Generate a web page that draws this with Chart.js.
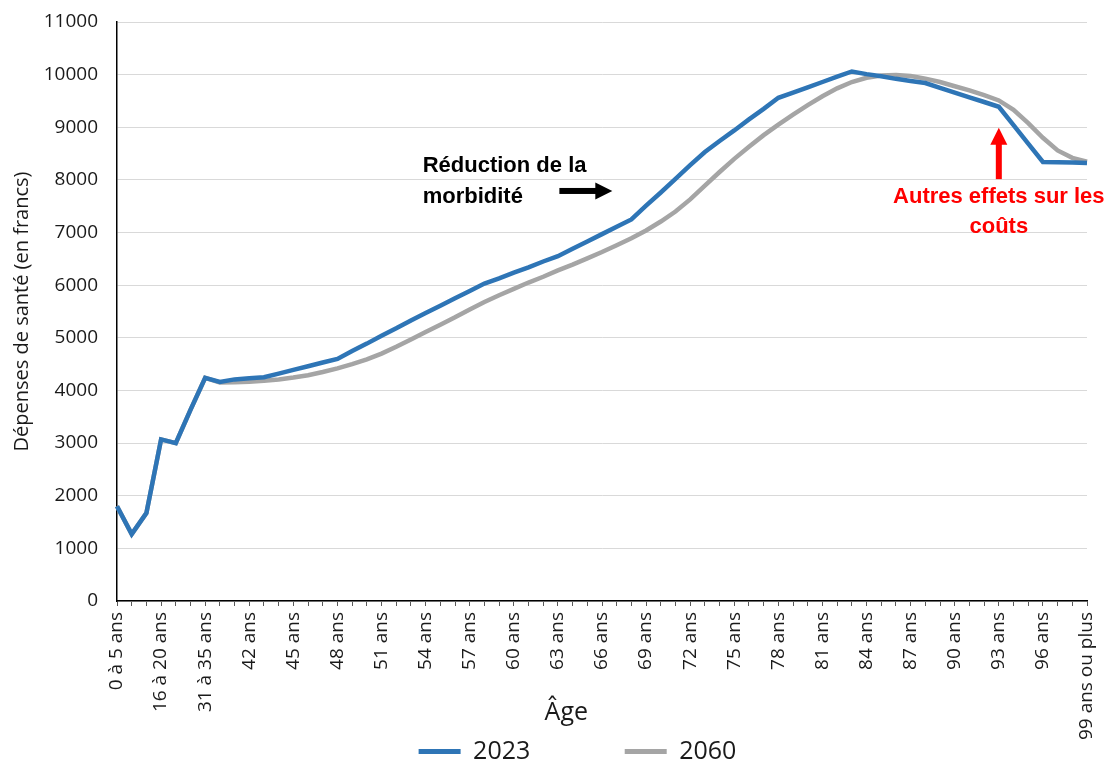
<!DOCTYPE html>
<html lang="fr">
<head>
<meta charset="UTF-8">
<title>Dépenses de santé par âge</title>
<script src="https://cdn.jsdelivr.net/npm/chart.js"></script>
<style>
    html, body { margin: 0; padding: 0; background: #fff; }
    #wrap { width: 1109px; height: 762px; }
</style>
</head>
<body>
<div id="wrap"><canvas id="chart" width="1109" height="762"></canvas></div>
<script>
    // catégories d'âge
    const ageLabels = [
        "0 à 5 ans", "6 à 10 ans", "11 à 15 ans", "16 à 20 ans", "21 à 25 ans", "26 à 30 ans",
        "31 à 35 ans", "36 à 40 ans", "41 ans", "42 ans", "43 ans", "44 ans", "45 ans", "46 ans",
        "47 ans", "48 ans", "49 ans", "50 ans", "51 ans", "52 ans", "53 ans", "54 ans", "55 ans",
        "56 ans", "57 ans", "58 ans", "59 ans", "60 ans", "61 ans", "62 ans", "63 ans", "64 ans",
        "65 ans", "66 ans", "67 ans", "68 ans", "69 ans", "70 ans", "71 ans", "72 ans", "73 ans",
        "74 ans", "75 ans", "76 ans", "77 ans", "78 ans", "79 ans", "80 ans", "81 ans", "82 ans",
        "83 ans", "84 ans", "85 ans", "86 ans", "87 ans", "88 ans", "89 ans", "90 ans", "91 ans",
        "92 ans", "93 ans", "94 ans", "95 ans", "96 ans", "97 ans", "98 ans", "99 ans ou plus"
    ];

    // dépenses 2023
    const depenses2023 = [
        1800, 1270, 1670, 3070, 3000, 3630, 4240, 4160, 4210, 4230,
        4250, 4320, 4390, 4460, 4530, 4600, 4750, 4890, 5040, 5180,
        5330, 5470, 5610, 5750, 5890, 6030, 6130, 6240, 6340, 6450,
        6550, 6690, 6830, 6970, 7110, 7250, 7510, 7760, 8020, 8280,
        8530, 8740, 8940, 9150, 9350, 9560, 9660, 9760, 9860, 9960,
        10060, 10010, 9970, 9920, 9880, 9840, 9750, 9660, 9570, 9480,
        9390, 9040, 8690, 8340, 8335, 8330, 8320
    ];

    // dépenses 2060
    const depenses2060 = [
        1800, 1270, 1670, 3070, 3000, 3630, 4240, 4150, 4155, 4165,
        4185, 4210, 4245, 4290, 4350, 4420, 4500, 4590, 4700, 4830,
        4970, 5110, 5250, 5390, 5540, 5680, 5810, 5930, 6050, 6160,
        6280, 6390, 6510, 6630, 6760, 6890, 7040, 7210, 7400, 7630,
        7890, 8150, 8400, 8630, 8850, 9050, 9240, 9420, 9590, 9740,
        9860, 9940, 9985, 9995, 9975, 9925, 9860, 9780, 9700, 9610,
        9510, 9330, 9080, 8800, 8560, 8420, 8345
    ];

    const seriesNames = ["2023", "2060"];
    const yTicks = [0, 1000, 2000, 3000, 4000, 5000, 6000, 7000, 8000, 9000, 10000, 11000];

    const FONT = '"Open Sans", "Noto Sans", sans-serif';
    const TXT = '#1a1a1a';

    function arrow(ctx, x0, y0, x1, y1, color) {
        // flèche épaisse de (x0,y0) vers la pointe (x1,y1)
        const ang = Math.atan2(y1 - y0, x1 - x0);
        const len = Math.hypot(x1 - x0, y1 - y0);
        const head = 17, half = 8.5, shaft = 3;
        ctx.save();
        ctx.translate(x0, y0);
        ctx.rotate(ang);
        ctx.fillStyle = color;
        ctx.fillRect(0, -shaft, len - head + 1, shaft * 2);
        ctx.beginPath();
        ctx.moveTo(len - head, -half);
        ctx.lineTo(len, 0);
        ctx.lineTo(len - head, half);
        ctx.closePath();
        ctx.fill();
        ctx.restore();
    }

    const annotations = {
        id: 'annotations',
        afterDraw(chart) {
            const {ctx, scales: {x, y}} = chart;
            ctx.save();
            ctx.font = 'bold 22px "Liberation Sans", Arial, sans-serif';
            ctx.textBaseline = 'alphabetic';

            ctx.fillStyle = '#000';
            ctx.textAlign = 'left';
            const tx = x.getPixelForValue(20.8);
            ctx.fillText('Réduction de la', tx, y.getPixelForValue(8155));
            ctx.fillText('morbidité', tx, y.getPixelForValue(7560));
            arrow(ctx, x.getPixelForValue(30.1), y.getPixelForValue(7790),
                x.getPixelForValue(33.7), y.getPixelForValue(7790), '#000');

            ctx.fillStyle = '#ff0000';
            ctx.textAlign = 'center';
            const rx = x.getPixelForValue(60);
            ctx.fillText('Autres effets sur les', rx, y.getPixelForValue(7561));
            ctx.fillText('coûts', rx, y.getPixelForValue(6991));
            arrow(ctx, rx, y.getPixelForValue(8015), rx, y.getPixelForValue(8990), '#ff0000');
            ctx.restore();
        }
    };

    // l'axe des âges descend jusqu'au bas du canevas, comme dans l'original
    const layoutTweaks = {
        id: 'layoutTweaks',
        afterLayout(chart) {
            chart.legend.left += 68;
            chart.scales.x.bottom = chart.height;
        }
    };

    new Chart(document.getElementById('chart').getContext('2d'), {
        type: 'line',
        data: {
            labels: ageLabels,
            datasets: [
                {
                    label: seriesNames[0],
                    data: depenses2023,
                    borderColor: '#2E75B6',
                    backgroundColor: '#2E75B6',
                    borderWidth: 4.5,
                    pointRadius: 0,
                    tension: 0,
                    fill: false
                },
                {
                    label: seriesNames[1],
                    data: depenses2060,
                    borderColor: '#A5A5A5',
                    backgroundColor: '#A5A5A5',
                    borderWidth: 4.5,
                    pointRadius: 0,
                    tension: 0,
                    fill: false
                }
            ]
        },
        options: {
            responsive: false,
            animation: false,
            layout: {padding: {top: 22, right: 22, bottom: -12, left: 0}},
            plugins: {
                tooltip: {enabled: false},
                legend: {
                    position: 'bottom',
                    labels: {
                        boxWidth: 42,
                        boxHeight: 5,
                        padding: 10,
                        color: TXT,
                        font: {family: FONT, size: 25},
                        generateLabels(chart) {
                            return chart.data.datasets.map((ds, i) => ({
                                text: i === 0 ? ds.label + '\u00a0'.repeat(13) : ds.label,
                                fillStyle: ds.borderColor,
                                strokeStyle: ds.borderColor,
                                lineWidth: 0,
                                fontColor: TXT,
                                hidden: false,
                                datasetIndex: i
                            }));
                        }
                    }
                }
            },
            scales: {
                x: {
                    offset: false,
                    afterFit(scale) {
                        scale.height = 128;
                        scale.paddingLeft = 0;
                        scale.paddingRight = 0;
                    },
                    border: {display: true, color: '#000', width: 1.5},
                    grid: {
                        display: true,
                        drawOnChartArea: false,
                        drawTicks: true,
                        tickLength: 5,
                        color: '#595959'
                    },
                    ticks: {
                        autoSkip: false,
                        minRotation: 90,
                        maxRotation: 90,
                        padding: 6,
                        color: TXT,
                        font: {family: FONT, size: 19},
                        callback(value, index) {
                            return index % 3 === 0 ? ageLabels[index] : '';
                        }
                    },
                    title: {
                        display: true,
                        text: 'Âge' + '\u00a0'.repeat(11),
                        color: TXT,
                        font: {family: FONT, size: 25},
                        padding: {top: 0, bottom: 34}
                    }
                },
                y: {
                    min: yTicks[0],
                    max: yTicks[yTicks.length - 1],
                    afterFit(scale) {
                        scale.width = 117;
                        scale.paddingTop = 0;
                        scale.paddingBottom = 0;
                    },
                    afterBuildTicks(scale) { scale.ticks = yTicks.map(v => ({value: v})); },
                    border: {display: true, color: '#000', width: 1.5},
                    grid: {color: '#d9d9d9', lineWidth: 1, drawTicks: false},
                    ticks: {
                        padding: 19,
                        color: TXT,
                        font: {family: FONT, size: 19},
                        callback: v => String(v)
                    },
                    title: {
                        display: true,
                        text: 'Dépenses de santé (en francs)',
                        color: TXT,
                        font: {family: FONT, size: 20},
                        padding: {top: 10, bottom: 0}
                    }
                }
            }
        },
        plugins: [annotations, layoutTweaks]
    });
</script>
</body>
</html>
